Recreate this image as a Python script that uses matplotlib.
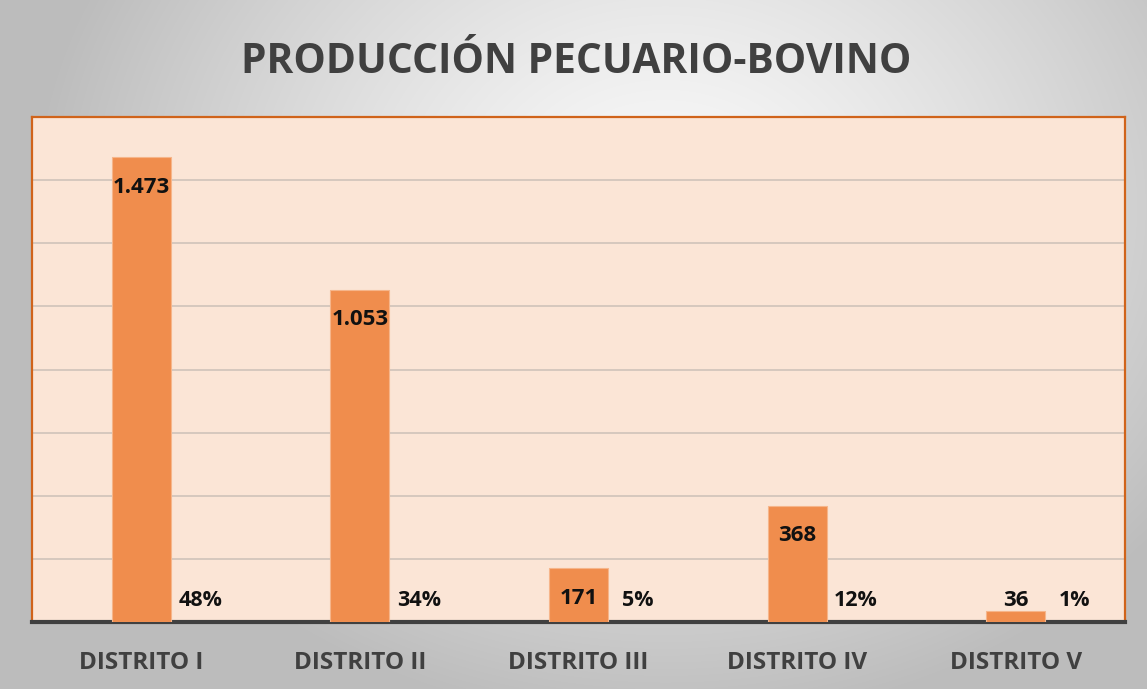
import numpy as np
import matplotlib.pyplot as plt

CATEGORIES = ["DISTRITO I", "DISTRITO II", "DISTRITO III", "DISTRITO IV", "DISTRITO V"]
VALUES = [1473, 1053, 171, 368, 36]
VALUE_LABELS = ["1.473", "1.053", "171", "368", "36"]
PERCENTS = ["48%", "34%", "5%", "12%", "1%"]
TITLE = "PRODUCCIÓN PECUARIO-BOVINO"

FONT = "Open Sans"
BAR_COLOR = "#f08d4d"
PLOT_BG = "#fbe5d6"
TEXT_GRAY = "#404040"

fig = plt.figure(figsize=(11.47, 6.89), dpi=100)

# radial gray gradient behind everything
bg = fig.add_axes([0, 0, 1, 1], zorder=-10)
h, w = 689, 1147
yy, xx = np.mgrid[0:h, 0:w]
dx = (xx - w * 0.58) / (w * 0.55)
dy = (yy - h * 0.3) / (h * 0.75)
r = np.clip(np.sqrt(dx ** 2 + dy ** 2), 0, 1)
light, dark = 0.98, 0.74
shade = light - (light - dark) * r ** 1.3
bg.imshow(np.dstack([shade] * 3), aspect="auto", extent=[0, 1, 0, 1])
bg.axis("off")

ax = fig.add_axes([0.0279, 0.0972, 0.9529, 0.733])
ax.set_facecolor(PLOT_BG)

x = np.arange(len(CATEGORIES))
ax.bar(x, VALUES, width=0.27, color=BAR_COLOR, edgecolor="#f6b58a",
       linewidth=0.8, zorder=3)

ax.set_xlim(-0.5, len(CATEGORIES) - 0.5)
ax.set_ylim(0, 1600)
ax.set_yticks(np.arange(200, 1600, 200))
ax.yaxis.grid(True, color="#cfc3ba", linewidth=1.2, zorder=0)
ax.tick_params(axis="y", length=0, labelleft=False)
ax.tick_params(axis="x", length=0, pad=21)
ax.set_xticks(x)
ax.set_xticklabels(CATEGORIES, fontsize=17.5, fontweight="bold",
                   color=TEXT_GRAY, family=FONT)

for side in ["top", "left", "right"]:
    ax.spines[side].set_color("#d0631a")
    ax.spines[side].set_linewidth(1.6)
ax.spines["bottom"].set_color(TEXT_GRAY)
ax.spines["bottom"].set_linewidth(3)

for xi, v, lab, pct in zip(x, VALUES, VALUE_LABELS, PERCENTS):
    ypos = max(v - 95, 68)
    ax.text(xi, ypos, lab, ha="center", va="center", fontsize=16,
            fontweight="bold", color="#111111", family=FONT, zorder=4)
    ax.text(xi + 0.27, 68, pct, ha="center", va="center", fontsize=15.5,
            fontweight="bold", color="#111111", family=FONT, zorder=4)

fig.text(0.502, 0.91, TITLE, ha="center", va="center", fontsize=29.3,
         fontweight="bold", color=TEXT_GRAY, family=FONT)

fig.savefig("out.png", dpi=100)
